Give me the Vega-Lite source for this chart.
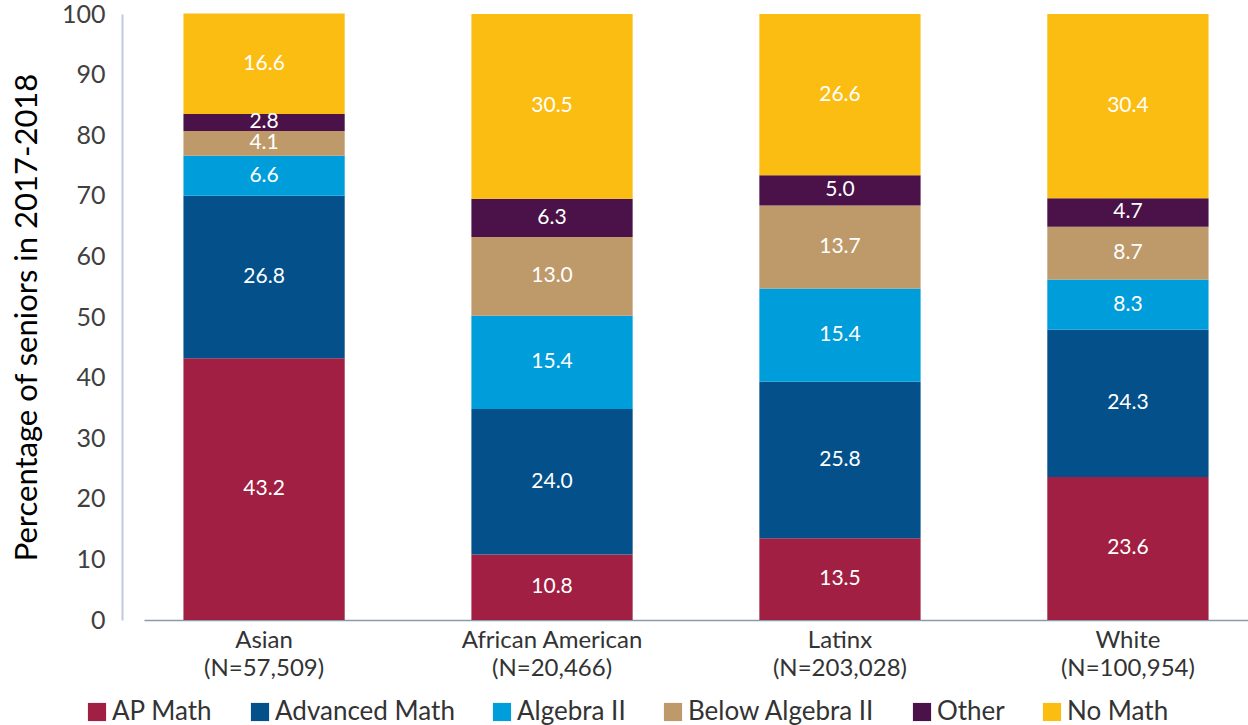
{
  "$schema": "https://vega.github.io/schema/vega-lite/v6.json",
  "width": 1104,
  "height": 606,
  "autosize": {"type": "none"},
  "padding": {"left": 144, "top": 14, "right": 0, "bottom": 105},
  "background": "white",
  "config": {"view": {"stroke": null}, "font": "Lato"},
  "data": {
    "values": [
      {"group": "Asian|(N=57,509)", "cat": "AP Math", "o": 1, "pct": 43.2},
      {"group": "Asian|(N=57,509)", "cat": "Advanced Math", "o": 2, "pct": 26.8},
      {"group": "Asian|(N=57,509)", "cat": "Algebra II", "o": 3, "pct": 6.6},
      {"group": "Asian|(N=57,509)", "cat": "Below Algebra II", "o": 4, "pct": 4.1},
      {"group": "Asian|(N=57,509)", "cat": "Other", "o": 5, "pct": 2.8},
      {"group": "Asian|(N=57,509)", "cat": "No Math", "o": 6, "pct": 16.6},
      {"group": "African American|(N=20,466)", "cat": "AP Math", "o": 1, "pct": 10.8},
      {"group": "African American|(N=20,466)", "cat": "Advanced Math", "o": 2, "pct": 24.0},
      {"group": "African American|(N=20,466)", "cat": "Algebra II", "o": 3, "pct": 15.4},
      {"group": "African American|(N=20,466)", "cat": "Below Algebra II", "o": 4, "pct": 13.0},
      {"group": "African American|(N=20,466)", "cat": "Other", "o": 5, "pct": 6.3},
      {"group": "African American|(N=20,466)", "cat": "No Math", "o": 6, "pct": 30.5},
      {"group": "Latinx|(N=203,028)", "cat": "AP Math", "o": 1, "pct": 13.5},
      {"group": "Latinx|(N=203,028)", "cat": "Advanced Math", "o": 2, "pct": 25.8},
      {"group": "Latinx|(N=203,028)", "cat": "Algebra II", "o": 3, "pct": 15.4},
      {"group": "Latinx|(N=203,028)", "cat": "Below Algebra II", "o": 4, "pct": 13.7},
      {"group": "Latinx|(N=203,028)", "cat": "Other", "o": 5, "pct": 5.0},
      {"group": "Latinx|(N=203,028)", "cat": "No Math", "o": 6, "pct": 26.6},
      {"group": "White|(N=100,954)", "cat": "AP Math", "o": 1, "pct": 23.6},
      {"group": "White|(N=100,954)", "cat": "Advanced Math", "o": 2, "pct": 24.3},
      {"group": "White|(N=100,954)", "cat": "Algebra II", "o": 3, "pct": 8.3},
      {"group": "White|(N=100,954)", "cat": "Below Algebra II", "o": 4, "pct": 8.7},
      {"group": "White|(N=100,954)", "cat": "Other", "o": 5, "pct": 4.7},
      {"group": "White|(N=100,954)", "cat": "No Math", "o": 6, "pct": 30.4}
    ]
  },
  "transform": [
    {"stack": "pct", "groupby": ["group"], "sort": [{"field": "o", "order": "ascending"}], "as": ["y0", "y1"]},
    {"calculate": "(datum.y0 + datum.y1) / 2", "as": "mid"}
  ],
  "encoding": {
    "x": {
      "field": "group",
      "type": "nominal",
      "sort": null,
      "scale": {"paddingInner": 0.44, "paddingOuter": 0.137},
      "axis": {
        "title": null,
        "labelAngle": 0,
        "labelExpr": "split(datum.label, '|')",
        "labelFontSize": 24,
        "labelLineHeight": 28,
        "labelLimit": 400,
        "labelColor": "#333333",
        "labelPadding": 8,
        "ticks": false,
        "domainColor": "#8a9bb0",
        "domainWidth": 1.5
      }
    }
  },
  "layer": [
    {
      "mark": {"type": "bar"},
      "encoding": {
        "y": {
          "field": "y0",
          "type": "quantitative",
          "scale": {"domain": [0, 100], "nice": false},
          "axis": {
            "title": "Percentage of seniors in 2017-2018",
            "titleFontSize": 31,
            "titleFontWeight": "normal",
            "titleColor": "#000000",
            "titlePadding": 18,
            "values": [0, 10, 20, 30, 40, 50, 60, 70, 80, 90, 100],
            "grid": false,
            "ticks": false,
            "offset": 22,
            "domainColor": "#c0cad8",
            "domainWidth": 2,
            "labelFontSize": 25,
            "labelColor": "#404040",
            "labelPadding": 17
          }
        },
        "y2": {"field": "y1"},
        "color": {
          "field": "cat",
          "type": "nominal",
          "scale": {
            "domain": ["AP Math", "Advanced Math", "Algebra II", "Below Algebra II", "Other", "No Math"],
            "range": ["#a01f42", "#03508a", "#009ddb", "#be9a6b", "#4a1248", "#fbbd11"]
          },
          "legend": {
            "title": null,
            "orient": "none",
            "direction": "horizontal",
            "legendX": -60,
            "legendY": 685,
            "symbolType": "square",
            "symbolSize": 330,
            "symbolStrokeWidth": 0,
            "symbolOpacity": 1,
            "labelFontSize": 26,
            "labelColor": "#333333",
            "labelOffset": 2,
            "columnPadding": 34,
            "labelLimit": 400
          }
        }
      }
    },
    {
      "mark": {"type": "text", "color": "white", "fontSize": 21, "baseline": "middle", "align": "center"},
      "encoding": {
        "y": {"field": "mid", "type": "quantitative"},
        "text": {"field": "pct", "type": "quantitative", "format": ".1f"}
      }
    }
  ]
}
